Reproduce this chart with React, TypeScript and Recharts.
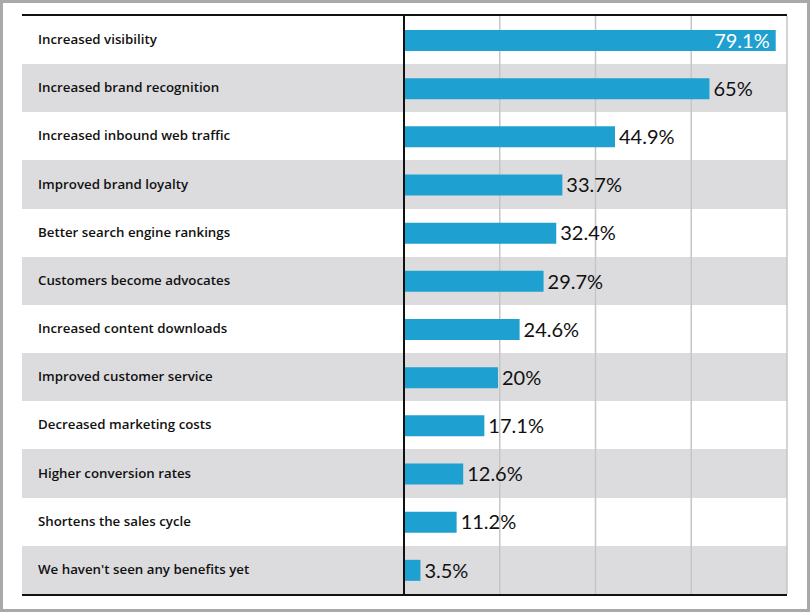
import { BarChart, Bar, XAxis, YAxis, CartesianGrid, LabelList } from 'recharts';

// survey answers, top to bottom
const benefits = [
  'Increased visibility',
  'Increased brand recognition',
  'Increased inbound web traffic',
  'Improved brand loyalty',
  'Better search engine rankings',
  'Customers become advocates',
  'Increased content downloads',
  'Improved customer service',
  'Decreased marketing costs',
  'Higher conversion rates',
  'Shortens the sales cycle',
  "We haven't seen any benefits yet",
];
const shares = [79.1, 65, 44.9, 33.7, 32.4, 29.7, 24.6, 20, 17.1, 12.6, 11.2, 3.5];

const X_MAX = 81.5;
const gridTicks = [0, 20.375, 40.75, 61.125, 81.5];

const data = benefits.map((name, i) => ({ name, value: shares[i] }));

const W = 810, H = 612;
const M = { top: 16, right: 23, bottom: 18, left: 22 };
const AXIS_W = 382;
const BAR_COLOR = '#1ea0d0';
const ROW_GRAY = '#dcdcde';

const fmt = (v: number) => `${v}%`;

const CategoryTick = (props: any) => {
  const { y, payload } = props;
  return (
    <text x={38} y={y} dy={4} textAnchor="start" fill="#111" fontSize={13.3} fontWeight={600} fontFamily='"Open Sans", sans-serif'>
      {payload.value}
    </text>
  );
};

const ValueLabel = (props: any) => {
  const { x, y, width, height, value } = props;
  const inside = value > X_MAX - 10;
  return (
    <text
      x={inside ? x + width - 6 : x + width + 4}
      y={y + height / 2}
      dy="0.36em"
      textAnchor={inside ? 'end' : 'start'}
      fill={inside ? '#fff' : '#111'}
      fontSize={20}
      fontFamily="Lato, sans-serif"
    >
      {fmt(value)}
    </text>
  );
};

// alternating row bands behind the chart, one per category
function Stripes() {
  const rowH = (H - M.top - M.bottom) / benefits.length;
  return (
    <div style={{ position: 'absolute', left: M.left, top: M.top - 2, width: W - M.left - M.right, borderTop: '2px solid #111', borderBottom: '2px solid #111' }}>
      {benefits.map((b, i) => (
        <div key={b} style={{ height: rowH, background: i % 2 ? ROW_GRAY : '#fff' }} />
      ))}
    </div>
  );
}

export default function App() {
  return (
    <div style={{ position: 'relative', width: W, height: H, background: '#a9a9a9' }}>
      <style>{'body{margin:0}'}</style>
      <div style={{ position: 'absolute', left: 3, top: 3, width: W - 6.5, height: H - 6.5, background: '#fff' }} />
      <Stripes />
      <div style={{ position: 'absolute', left: 0, top: 0 }}>
        <BarChart width={W} height={H} data={data} layout="vertical" margin={M} barCategoryGap={0}>
          <XAxis type="number" domain={[0, X_MAX]} ticks={gridTicks} hide />
          <YAxis type="category" dataKey="name" width={AXIS_W} tickLine={false} axisLine={false} tick={<CategoryTick />} interval={0} />
          <CartesianGrid horizontal={false} stroke="#c6c6c6" strokeWidth={1.5} />
          <Bar dataKey="value" fill={BAR_COLOR} barSize={21} isAnimationActive={false}>
            <LabelList dataKey="value" content={<ValueLabel />} />
          </Bar>
        </BarChart>
      </div>
      <div style={{ position: 'absolute', left: M.left + AXIS_W - 1, top: M.top, width: 1.6, height: H - M.top - M.bottom, background: '#111' }} />
    </div>
  );
}
